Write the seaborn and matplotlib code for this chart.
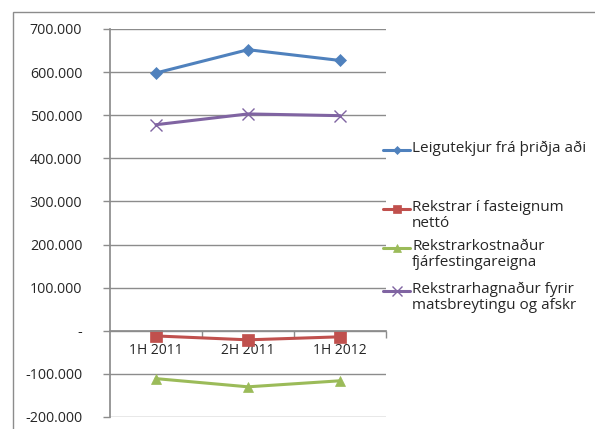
import matplotlib
matplotlib.use("Agg")
import matplotlib.pyplot as plt
import matplotlib.ticker as mticker
from matplotlib.lines import Line2D
from matplotlib.patches import Rectangle
import seaborn as sns
import pandas as pd

# ---- data ----
periods = ["1H 2011", "2H 2011", "1H 2012"]
series_names = [
    "Leigutekjur frá þriðja aði",
    "Rekstrar í fasteignum nettó",
    "Rekstrarkostnaður fjárfestingareigna",
    "Rekstrarhagnaður fyrir matsbreytingu og afskr",
]
legend_labels = [
    "Leigutekjur frá þriðja aði",
    "Rekstrar í fasteignum\nnettó",
    "Rekstrarkostnaður\nfjárfestingareigna",
    "Rekstrarhagnaður fyrir\nmatsbreytingu og afskr",
]
leigutekjur = [598000, 652000, 627000]
rekstrar_nettó = [-12000, -21000, -14000]
rekstrarkostnadur = [-111000, -130000, -116000]
rekstrarhagnadur = [478000, 503000, 499000]
y_ticks = [-200000, -100000, 0, 100000, 200000, 300000, 400000, 500000, 600000, 700000]

values = [leigutekjur, rekstrar_nettó, rekstrarkostnadur, rekstrarhagnadur]
colors = ["#4F81BD", "#C0504D", "#9BBB59", "#8064A2"]
markers = ["D", "s", "^", "x"]
msizes = [6.5, 8, 7, 9]
leg_msizes = [4.5, 6, 5.5, 6.5]

rows = []
for name, vals in zip(series_names, values):
    for p, v in zip(periods, vals):
        rows.append({"Tímabil": p, "Röð": name, "Gildi": v})
df = pd.DataFrame(rows)

sns.set_theme(style="white")
plt.rcParams["font.family"] = ["Open Sans", "DejaVu Sans"]

fig = plt.figure(figsize=(5.95, 4.29), dpi=100)
ax = fig.add_axes([110 / 595, 1 - 417 / 429, (386 - 110) / 595, (417 - 29) / 429])

grid_c = "#8C8C8C"
text_c = "#262626"
for name, c, m, ms in zip(series_names, colors, markers, msizes):
    sub = df[df["Röð"] == name]
    sns.lineplot(data=sub, x="Tímabil", y="Gildi", ax=ax, color=c, marker=m,
                 markersize=ms, linewidth=2.2, markeredgecolor=c,
                 markeredgewidth=1.0 if m == "x" else 0.5, sort=False, legend=False)

ax.set_xlim(-0.5, 2.5)
ax.set_ylim(-200000, 700000)
ax.set_yticks(y_ticks)

def fmt(v, pos):
    if v == 0:
        return "-"
    s = f"{abs(int(v)):,}".replace(",", ".")
    return ("-" if v < 0 else "") + s
ax.yaxis.set_major_formatter(mticker.FuncFormatter(fmt))

ax.set_xticks([0, 1, 2])
ax.set_xticklabels(periods)
ax.set_xticks([0.5, 1.5, 2.5], minor=True)
ax.tick_params(axis="x", which="major", length=0, pad=9, labelsize=10, colors=text_c)
ax.tick_params(axis="x", which="minor", length=5, width=1, color=grid_c, direction="out", bottom=True)
ax.tick_params(axis="y", which="major", length=5, width=1, color=grid_c, direction="out",
               pad=15, labelsize=10.3, labelcolor=text_c, left=True)

ax.grid(axis="y", color=grid_c, linewidth=1)
ax.grid(axis="x", visible=False)
ax.set_axisbelow(True)
for s in ["top", "right"]:
    ax.spines[s].set_visible(False)
ax.spines["left"].set_color(grid_c)
ax.spines["bottom"].set_color(grid_c)
ax.spines["bottom"].set_position(("data", 0))
ax.set_xlabel("")
ax.set_ylabel("")

# ---- legend (manual, Excel style) ----
leg_y = [150, 209, 248, 291]
x0, x1, xt = 383, 410, 412
for lab, c, m, ms, yy in zip(legend_labels, colors, markers, leg_msizes, leg_y):
    yf = 1 - yy / 429
    fig.add_artist(Line2D([x0 / 595, x1 / 595], [yf, yf], transform=fig.transFigure,
                          color=c, linewidth=2.2))
    fig.add_artist(Line2D([(x0 + x1) / 2 / 595], [yf], transform=fig.transFigure,
                          color=c, marker=m, markersize=ms, markeredgecolor=c,
                          markeredgewidth=1.0 if m == "x" else 0.5, linestyle="none"))
    fig.text(xt / 595, yf + 9 / 429, lab, ha="left", va="top", fontsize=11,
             color=text_c, linespacing=1.1)

# outer border
fig.add_artist(Rectangle((13 / 595, -0.05), 1.1, 1 - 12 / 429 + 0.05,
                         transform=fig.transFigure, fill=False,
                         edgecolor="#8C8C8C", linewidth=1))

fig.savefig("out.png", dpi=100)
